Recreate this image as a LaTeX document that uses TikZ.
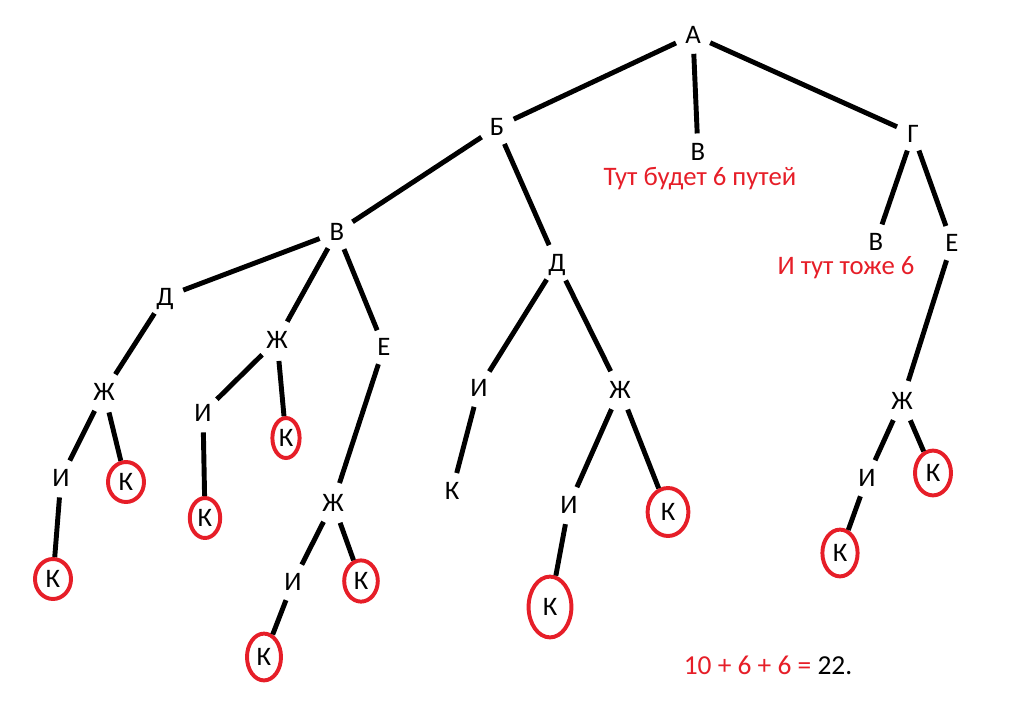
\documentclass[tikz,border=0pt]{standalone}
\usepackage{fontspec}
\setmainfont{Carlito}
\usetikzlibrary{shapes.geometric}
\definecolor{pathred}{RGB}{230,30,40}

\begin{document}
\begin{tikzpicture}[x=0.025cm,y=-0.025cm,line width=3.5pt]
        %
        % `letter' is used for every vertex of the tree.
        % `hit' is used for the K vertices that close a path (red ring).
        % `note' is used for the red remarks.
        \tikzstyle{letter} = [circle,inner sep=2.5pt,font=\fontsize{19}{22}\selectfont,text height=12pt,text depth=0pt]
        \tikzstyle{hit} = [ellipse,draw=pathred,line width=2.8pt,inner sep=0pt,minimum width=0.9cm,minimum height=1cm,font=\fontsize{19}{22}\selectfont]
        \tikzstyle{note} = [text=pathred,anchor=base,inner sep=0pt,font=\fontsize{19}{22}\selectfont]
        %
        \useasboundingbox (0,0) rectangle (1013,717);
        %
        % Root
        \node[letter] (a) at (693,35) {А};
        %
        % Level 1
        \node[letter] (b) at (497,127) {Б} edge [-] (a);
        \node[letter] (v1) at (698,152) {В} edge [-] (a);
        \node[letter] (g) at (913,134) {Г} edge [-] (a);
        %
        % Level 2
        \node[letter] (v2) at (337,232) {В} edge [-] (b);
        \node[letter] (d2) at (557,263) {Д} edge [-] (b);
        \node[letter] (v3) at (876,242) {В} edge [-] (g);
        \node[letter] (e3) at (952,243) {Е} edge [-] (g);
        %
        % Level 3
        \node[letter] (d4) at (165,297) {Д} edge [-] (v2);
        \node[letter] (zh4) at (277,340) {Ж} edge [-] (v2);
        \node[letter] (e4) at (384,347) {Е} edge [-] (v2);
        \node[letter] (i8) at (479,388) {И} edge [-] (d2);
        \node[letter] (zh8) at (620,390) {Ж} edge [-] (d2);
        \node[letter] (zh10) at (902,401) {Ж} edge [-] (e3);
        %
        % Level 4
        \node[letter] (zh5) at (104,392) {Ж} edge [-] (d4);
        \node[letter] (i6) at (203,413) {И} edge [-] (zh4);
        \node[hit,minimum width=0.68cm] (k6a) at (286,438) {К} edge [-] (zh4);
        \node[letter] (zh7) at (333,503) {Ж} edge [-] (e4);
        \node[letter] (k8) at (452,491) {К} edge [-] (i8);
        \node[letter] (i9) at (569,505) {И} edge [-] (zh8);
        \node[hit,minimum width=1.02cm,minimum height=1.2cm] (k9a) at (668,512) {К} edge [-] (zh8);
        \node[letter] (i10) at (867,478) {И} edge [-] (zh10);
        \node[hit,minimum height=1.12cm] (k10a) at (933,473) {К} edge [-] (zh10);
        %
        % Level 5
        \node[letter] (i5) at (61,478) {И} edge [-] (zh5);
        \node[hit] (k5a) at (126,482) {К} edge [-] (zh5);
        \node[hit,minimum width=0.76cm] (k6b) at (205,518) {К} edge [-] (i6);
        \node[letter] (i7) at (293,582) {И} edge [-] (zh7);
        \node[hit,minimum width=0.84cm,minimum height=1.03cm] (k7a) at (361,581) {К} edge [-] (zh7);
        \node[hit,minimum width=1.07cm,minimum height=1.52cm] (k9b) at (550,607) {К} edge [-] (i9);
        \node[hit,minimum width=0.88cm,minimum height=1.17cm] (k10b) at (840,553) {К} edge [-] (i10);
        %
        % Level 6
        \node[hit] (k5b) at (53,579) {К} edge [-] (i5);
        \node[hit,minimum width=0.85cm,minimum height=1.17cm] (k7b) at (264,657) {К} edge [-] (i7);
        %
        % Remarks
        \node[note] (n1) at (700,185) {Тут будет 6 путей};
        \node[note] (n2) at (846,274) {И тут тоже 6};
        \node[note,font=\fontsize{19.5}{22}\selectfont] (sum) at (768,674) {10 + 6 + 6 = \textcolor{black}{22.}};
        %
\end{tikzpicture}
\end{document}
